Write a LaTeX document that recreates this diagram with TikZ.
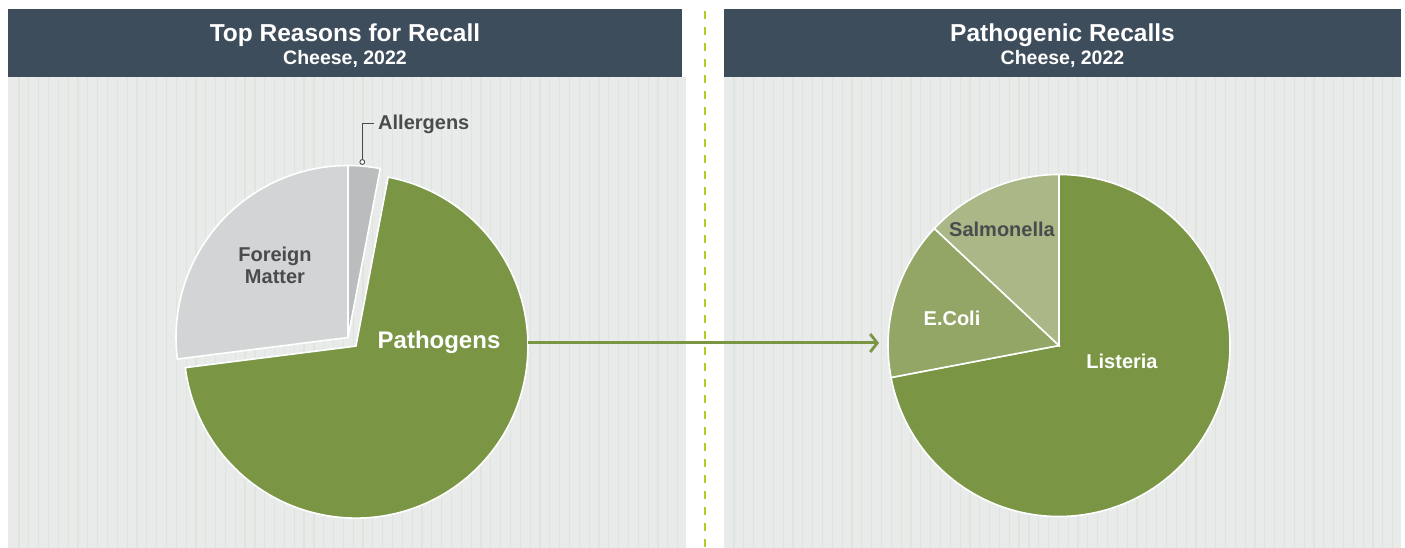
\documentclass[tikz,border=0pt]{standalone}
\usepackage{fontspec}
\setmainfont{Liberation Sans}
\usepackage{xcolor}
\usetikzlibrary{arrows.meta,positioning,calc}

\definecolor{headblue}{HTML}{3E4D5C}
\definecolor{panelgray}{HTML}{E9EAEA}
\definecolor{stripe}{HTML}{DDE5DD}
\definecolor{pathgreen}{HTML}{7A9645}
\definecolor{coligreen}{HTML}{93A666}
\definecolor{salmgreen}{HTML}{A9B886}
\definecolor{foreigngray}{HTML}{D3D4D6}
\definecolor{allergray}{HTML}{BBBCBE}
\definecolor{labelgray}{HTML}{4A4B4D}
\definecolor{dashgreen}{HTML}{B4CB2E}

\tikzset{
  slice/.style={draw=white,line width=1.6pt},
  title/.style={text=white,font=\bfseries\fontsize{24.5}{28}\selectfont,anchor=base},
  subtitle/.style={text=white,font=\bfseries\fontsize{19.5}{22}\selectfont,anchor=base},
  darklabel/.style={text=labelgray,font=\bfseries\fontsize{20}{22}\selectfont,align=center},
  whitelabel/.style={text=white,font=\bfseries\fontsize{20}{22}\selectfont},
}

\begin{document}
\begin{tikzpicture}[x=1pt,y=1pt]
\useasboundingbox (0,0) rectangle (1405,548);
% Panels
\fill[panelgray] (8,0) rectangle (686,471);
\fill[panelgray] (724,0) rectangle (1401,471);
\foreach \i in {0,...,67} \draw[stripe,line width=1.2pt] (19+9.83*\i,0) -- (19+9.83*\i,471);
\foreach \i in {0,...,67} \draw[stripe,line width=1.2pt] (734+9.83*\i,0) -- (734+9.83*\i,471);
\fill[headblue] (8,471) rectangle (682,539);
\fill[headblue] (724,471) rectangle (1401,539);
% Titles
\node[title] (lefttitle) at (345,506.3) {Top Reasons for Recall};
\node[subtitle] (leftsub) at (345,483.7) {Cheese, 2022};
\node[title] (righttitle) at (1062.5,506.3) {Pathogenic Recalls};
\node[subtitle] (rightsub) at (1062.5,483.7) {Cheese, 2022};
% Divider
\draw[dashgreen,line width=1.3pt,dash pattern=on 8pt off 8pt] (705,537) -- (705,0);
% Left pie
\coordinate (c1) at (348,210.5);
\coordinate (pc) at ($(c1)+(-47.3:11.7)$);
\fill[foreigngray,slice] (c1) -- ++(90:172) arc (90:187.2:172) -- cycle;
\fill[allergray,slice] (c1) -- ++(79.2:172) arc (79.2:90:172) -- cycle;
\fill[pathgreen,slice] (pc) -- ++(79.2:172) arc (79.2:-172.8:172) -- cycle;
% Right pie
\coordinate (c2) at (1059,202.5);
\fill[pathgreen,slice] (c2) -- ++(190.8:171) arc (190.8:450:171) -- cycle;
\fill[coligreen,slice] (c2) -- ++(136.8:171) arc (136.8:190.8:171) -- cycle;
\fill[salmgreen,slice] (c2) -- ++(90:171) arc (90:136.8:171) -- cycle;
% Labels
\node[darklabel,anchor=west,inner sep=4pt] (allergens) at (374,424) {Allergens};
\coordinate (allerdot) at (362.3,386);
\draw[labelgray,line width=1pt] (allerdot) |- (allergens.west);
\draw[labelgray,line width=0.9pt,fill=white] (allerdot) circle (2.4);
\node[darklabel] (foreign) at (275,283) {Foreign\\Matter};
\node[whitelabel,font=\bfseries\fontsize{24}{26}\selectfont] (pathogens) at (439,206) {Pathogens};
\node[darklabel] (salmonella) at (1002,319) {Salmonella};
\node[whitelabel] (ecoli) at (952,230) {E.Coli};
\node[whitelabel] (listeria) at (1122,187) {Listeria};
% Arrow
\coordinate (arrowout) at (528,205);
\coordinate (arrowin) at (879,205);
\draw[pathgreen,line width=3pt,-{Straight Barb[length=7pt,width=18pt,line width=2.8pt]}] (arrowout) -- (arrowin);
\end{tikzpicture}
\end{document}
